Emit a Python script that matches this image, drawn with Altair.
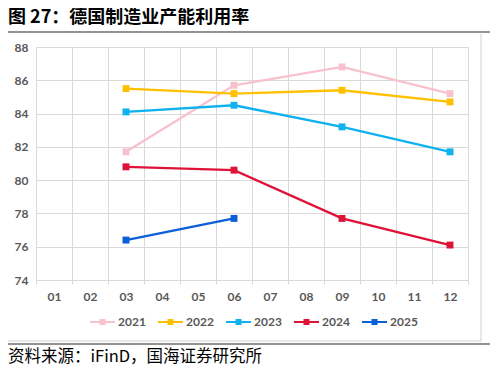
import altair as alt
import pandas as pd

months = ["01", "02", "03", "04", "05", "06", "07", "08", "09", "10", "11", "12"]
obs_months = ["03", "06", "09", "12"]
years = ["2021", "2022", "2023", "2024", "2025"]
y2021 = [81.7, 85.7, 86.8, 85.2]
y2022 = [85.5, 85.2, 85.4, 84.7]
y2023 = [84.1, 84.5, 83.2, 81.7]
y2024 = [80.8, 80.6, 77.7, 76.1]
y2025 = [76.4, 77.7]
y_ticks = [74, 76, 78, 80, 82, 84, 86, 88]
colors = ["#F7C2CC", "#FFC000", "#0FB2EE", "#DF1338", "#0A5ED7"]

title_text = "图 27：德国制造业产能利用率"
source_text = "资料来源：iFinD，国海证券研究所"

rows = []
for yr, vals in zip(years, [y2021, y2022, y2023, y2024, y2025]):
    for m, v in zip(obs_months, vals):
        rows.append({"month": m, "year": yr, "value": v})
df = pd.DataFrame(rows)

GRID = "#D9D9D9"
LABEL = "#595959"

x_enc = alt.X(
    "month:O",
    bandPosition=0.5,
    scale=alt.Scale(type="band", domain=months, paddingInner=0, paddingOuter=0),
    axis=alt.Axis(
        title=None, labelAngle=0, tickBand="extent", grid=True, gridColor=GRID,
        domainColor=GRID, tickColor=GRID, tickSize=4, labelPadding=7,
        labelFont="Lato", labelFontWeight="bold", labelFontSize=12, labelColor=LABEL,
    ),
)
y_enc = alt.Y(
    "value:Q",
    scale=alt.Scale(domain=[74, 88], nice=False, zero=False),
    axis=alt.Axis(
        title=None, values=y_ticks, grid=True, gridColor=GRID, domain=False,
        ticks=False, labelPadding=8, labelFont="Lato", labelFontWeight="bold",
        labelFontSize=12, labelColor=LABEL,
    ),
)
color_scale = alt.Scale(domain=years, range=colors)
sym_path = "M-1,-0.22 L0.9,-0.22 L0.9,-0.6 L2.1,-0.6 L2.1,-0.22 L4,-0.22 L4,0.22 L2.1,0.22 L2.1,0.6 L0.9,0.6 L0.9,0.22 L-1,0.22 Z"
legend = alt.Legend(
    title=None, orient="none", direction="horizontal", legendX=53, legendY=269,
    symbolType=sym_path, symbolSize=100, symbolStrokeWidth=0, labelOffset=17,
    columnPadding=11, labelFont="Lato", labelFontWeight="bold", labelFontSize=12,
    labelColor=LABEL,
)

lines = alt.Chart(df).mark_line(strokeWidth=2.3).encode(
    x=x_enc, y=y_enc,
    color=alt.Color("year:N", scale=color_scale, legend=legend),
    detail="year:N",
)
points = alt.Chart(df).mark_point(shape="square", filled=True, size=48, opacity=1).encode(
    x=x_enc, y=y_enc,
    color=alt.Color("year:N", scale=color_scale, legend=legend),
)

one = pd.DataFrame({"k": [0]})
base = alt.Chart(one)
title = base.mark_text(
    align="left", baseline="top", font="Noto Sans CJK SC", fontWeight="bold",
    fontSize=18, color="#000000",
).encode(x=alt.value(-28), y=alt.value(-38.5), text=alt.value(title_text))
source = base.mark_text(
    align="left", baseline="middle", font="Noto Sans CJK SC", fontSize=16.5,
    color="#000000",
).encode(x=alt.value(-28), y=alt.value(310), text=alt.value(source_text))
top_rule = base.mark_rule(color="#6E6E6E", strokeWidth=1.5).encode(
    x=alt.value(-31), x2=alt.value(457), y=alt.value(-15))
bottom_rule = base.mark_rule(color="#6E6E6E", strokeWidth=1.5).encode(
    x=alt.value(-31), x2=alt.value(457), y=alt.value(297))
box_bottom = base.mark_rule(color="#CFCFCF", strokeWidth=1).encode(
    x=alt.value(-31), x2=alt.value(445), y=alt.value(294))
box_right = base.mark_rule(color="#CFCFCF", strokeWidth=1).encode(
    x=alt.value(445), y=alt.value(-13), y2=alt.value(294))

chart = alt.layer(
    box_bottom, box_right, top_rule, bottom_rule, lines, points, title, source
).properties(
    width=432, height=233,
    autosize=alt.AutoSizeParams(type="none"),
    padding={"left": 28, "top": 39, "right": 22, "bottom": 86},
).configure_view(stroke=None)

chart.save("out.html", embed_options={"renderer": "svg", "actions": False})
